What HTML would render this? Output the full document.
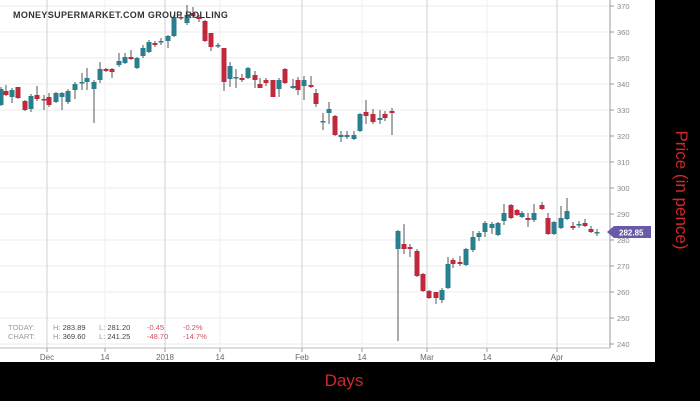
<!DOCTYPE html>
<html><head><meta charset="utf-8"><style>
html,body{margin:0;padding:0;background:#000;width:700px;height:401px;overflow:hidden}
svg{display:block;font-family:"Liberation Sans",sans-serif}
</style></head><body>
<svg id="c" width="700" height="401" xmlns="http://www.w3.org/2000/svg">
<rect x="0" y="0" width="700" height="401" fill="#000"/>
<rect x="0" y="0" width="655" height="362" fill="#fff"/>
<g id="grid"></g>
<g id="candles"></g>
<line x1="610" y1="0" x2="610" y2="348" stroke="#999" stroke-width="1"/>
<line x1="0" y1="348" x2="610" y2="348" stroke="#bbb" stroke-width="1"/>
<text x="13" y="18" font-size="9" font-weight="bold" fill="#333" letter-spacing="0.35">MONEYSUPERMARKET.COM GROUP ROLLING</text>
<g font-size="7.5" fill="#999">
<text x="8" y="330">TODAY:</text><text x="8" y="339">CHART:</text>
<text x="53" y="330">H: <tspan fill="#444">283.89</tspan></text><text x="99" y="330">L: <tspan fill="#444">281.20</tspan></text>
<text x="53" y="339">H: <tspan fill="#444">369.60</tspan></text><text x="99" y="339">L: <tspan fill="#444">241.25</tspan></text>
<text x="147" y="330" fill="#d05060">-0.45</text><text x="183" y="330" fill="#d05060">-0.2%</text>
<text x="147" y="339" fill="#d05060">-48.70</text><text x="183" y="339" fill="#d05060">-14.7%</text>
</g>
<polygon points="607,232 614,226 651,226 651,238 614,238" fill="#6a58a8"/>
<text x="619" y="235.5" font-size="8" font-weight="bold" fill="#fff">282.85</text>
<text transform="translate(676,190) rotate(90)" text-anchor="middle" font-size="17" fill="#d0282c" style="font-weight:300">Price (in pence)</text>
<text x="344" y="386" text-anchor="middle" font-size="17" fill="#d0282c">Days</text>
</svg>
<script>
var ns="http://www.w3.org/2000/svg";
function el(p,t,a,txt){var e=document.createElementNS(ns,t);for(var k in a)e.setAttribute(k,a[k]);if(txt)e.textContent=txt;p.appendChild(e);return e;}
var g=document.getElementById('grid');
for(var p=240;p<=370;p+=10){var y=188+(300-p)*2.6;
 el(g,'line',{x1:0,x2:610,y1:y,y2:y,stroke:'#ebebeb'});
 el(g,'line',{x1:610,x2:614,y1:y,y2:y,stroke:'#999'});
 el(g,'text',{x:617,y:y+3,'font-size':7.5,fill:'#888'},String(p));}
var xt=[[47,'Dec',1],[105,'14',0],[165,'2018',1],[220,'14',0],[302,'Feb',1],[362,'14',0],[427,'Mar',1],[487,'14',0],[557,'Apr',1]];
xt.forEach(function(t){el(g,'line',{x1:t[0],x2:t[0],y1:0,y2:348,stroke:t[2]?'#d8d8d8':'#efefef','stroke-width':t[2]?1.2:1});
 el(g,'line',{x1:t[0],x2:t[0],y1:348,y2:352,stroke:'#999'});
 el(g,'text',{x:t[0],y:360,'text-anchor':'middle','font-size':8,fill:'#666'},t[1]);});
var T='#2a7f8f',R='#c0283c';
var d=[[1,89,105,87,106,T],[6,91,95,85,96,R],[12,90,97,88,103,T],[18,87,98,87,99,R],[25,101,110,100,111,R],[31,96,109,94,112,T],[37,95,99,86,101,R],[44,99,100,95,110,R],[49,97,105,93,107,R],[56,93,102,92,103,T],[62,93,97,92,110,T],[68,91,102,89,104,T],[75,84,90,82,99,T],[82,82,83,73,90,T],[87,78,82,68,90,T],[94,82,89,80,123,T],[100,69,80,62,83,T],[106,69,71,68,72,R],[112,69,72,68,78,R],[119,61,65,53,67,T],[125,57,63,53,64,T],[131,57,59,50,60,R],[137,58,68,57,69,T],[143,48,56,45,58,T],[149,42,52,40,53,T],[155,43,45,41,47,R],[161,41,42,38,45,T],[168,36,41,35,48,T],[174,17,36,15,37,T],[181,17,18,15,20,R],[187,15,23,5,25,T],[193,13,16,7,18,R],[199,17,19,15,22,R],[205,21,41,20,42,R],[211,33,47,33,51,R],[218,45,46,43,48,T],[224,48,82,48,91,R],[230,66,79,62,87,T],[236,77,78,69,88,T],[242,78,80,74,82,R],[248,68,78,67,79,T],[255,75,80,71,88,R],[260,84,88,78,88,R],[266,80,83,78,86,R],[273,80,97,80,97,R],[279,80,89,78,97,T],[285,69,83,68,84,R],[293,86,88,79,89,T],[298,80,90,77,95,R],[304,80,86,76,100,T],[311,85,87,76,88,R],[316,93,104,89,107,R],[323,121,122,113,130,T],[329,109,113,102,124,T],[335,116,135,115,136,R],[341,135,137,131,142,T],[347,135,137,131,139,T],[354,135,139,131,140,T],[360,114,131,113,132,T],[366,112,116,100,124,R],[373,114,122,109,124,R],[380,118,120,110,124,T],[385,114,118,111,121,R],[392,111,113,108,135,R],
[398,231,249,230,341,T],[404,244,249,224,254,R],[410,247,249,244,257,R],[417,251,276,249,277,R],[423,274,291,273,292,R],[429,291,298,290,299,R],[436,292,298,292,304,R],[442,290,300,288,303,T],[448,264,288,257,289,T],[453,260,264,258,268,R],[460,262,264,256,266,R],[466,249,265,248,266,T],[473,237,250,231,252,T],[479,233,237,231,241,T],[485,223,232,221,237,T],[492,224,228,222,234,T],[498,223,235,222,236,T],[504,213,221,204,225,T],[511,205,218,204,219,R],[517,210,215,209,216,R],[522,213,217,211,218,T],[528,218,220,213,227,R],[534,213,220,204,222,T],[542,205,209,202,210,R],[548,218,234,213,235,R],[554,222,234,221,235,T],[561,218,228,206,229,T],[567,211,219,198,220,T],[573,226,228,222,230,R],[579,224,225,221,228,T],[585,223,226,219,227,R],[591,229,232,226,233,R],[597,232,233,229,236,T]];
var c=document.getElementById('candles');
d.forEach(function(k){el(c,'line',{x1:k[0],x2:k[0],y1:k[3],y2:k[4],stroke:'#555','stroke-width':1});
 el(c,'rect',{x:k[0]-2.5,y:k[1],width:5,height:Math.max(1.5,k[2]-k[1]),fill:k[5]});});
</script>
</body></html>
